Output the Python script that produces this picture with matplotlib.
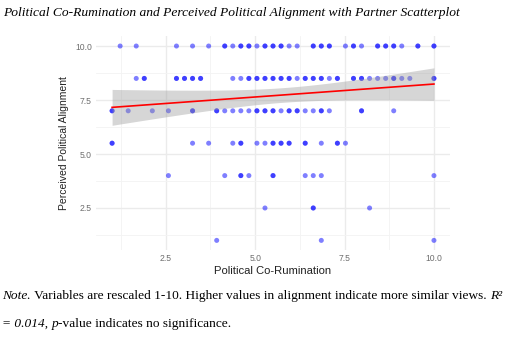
import numpy as np
import matplotlib
matplotlib.use("Agg")
import matplotlib.pyplot as plt

# Political co-rumination (x) values observed in each alignment row (duplicates = overlapping points)
row_10 = [1.225, 1.675, 2.8, 3.25, 3.7, 4.15, 4.15, 4.375, 4.6, 4.6, 4.825, 4.825, 5.05,
          5.275, 5.275, 5.5, 5.5, 5.725, 5.725, 5.95, 6.175, 6.625, 6.625, 6.85, 6.85,
          7.075, 7.075, 7.525, 7.75, 7.75, 7.975, 8.425, 8.425, 8.65, 8.65, 8.875, 8.875,
          9.1, 9.55, 9.55, 10.0, 10.0]
row_85 = [1.675, 1.9, 1.9, 2.8, 2.8, 3.025, 3.025, 3.25, 3.25, 3.475, 3.475, 4.375, 4.6,
          4.825, 4.825, 5.05, 5.05, 5.275, 5.275, 5.5, 5.5, 5.725, 5.725, 5.95, 5.95, 6.175,
          6.4, 6.4, 6.625, 6.625, 6.85, 6.85, 7.075, 7.3, 7.3, 7.75, 7.75, 7.975, 7.975,
          8.2, 8.425, 8.65, 8.875, 8.875, 9.1, 9.325, 10.0, 10.0]
row_7 = [1.0, 1.0, 1.45, 2.125, 2.575, 3.25, 3.25, 3.925, 3.925, 4.15, 4.375, 4.6, 4.825,
         5.05, 5.05, 5.275, 5.275, 5.5, 5.5, 5.725, 5.95, 5.95, 6.175, 6.175, 6.4, 6.625,
         6.85, 6.85, 7.075, 7.975, 7.975, 8.875]
row_55 = [1.0, 1.0, 3.25, 3.7, 4.375, 4.6, 4.6, 5.05, 5.275, 5.5, 5.5, 5.725, 5.725,
          5.95, 5.95, 6.4, 6.4, 6.85, 7.3, 7.3, 7.525]
row_4 = [2.575, 4.15, 4.6, 4.6, 4.825, 5.5, 5.5, 6.4, 6.625, 6.85, 10.0]
row_25 = [5.275, 6.625, 6.625, 8.2]
row_1 = [3.925, 6.85, 10.0]

alignment_levels = [10.0, 8.5, 7.0, 5.5, 4.0, 2.5, 1.0]
rows = [row_10, row_85, row_7, row_55, row_4, row_25, row_1]

# linear fit (R^2 = 0.014)
fit_intercept = 7.04
fit_slope = 0.12

x_ticks = [2.5, 5.0, 7.5, 10.0]
y_ticks = [2.5, 5.0, 7.5, 10.0]

title = "Political Co-Rumination and Perceived Political Alignment with Partner Scatterplot"
x_label = "Political Co-Rumination"
y_label = "Perceived Political Alignment"

x = np.concatenate([np.array(r, float) for r in rows])
y = np.concatenate([np.full(len(r), lv) for r, lv in zip(rows, alignment_levels)])

fig = plt.figure(figsize=(5.12, 3.4), dpi=100)
ax = fig.add_axes([0.1875, 0.2644, 0.879 - 0.1875, 0.8932 - 0.2644])

ax.set_xlim(0.55, 10.45)
ax.set_ylim(0.55, 10.45)
for s in ax.spines.values():
    s.set_visible(False)
ax.set_xticks(x_ticks)
ax.set_yticks(y_ticks)
ax.set_xticks([1.25, 3.75, 6.25, 8.75], minor=True)
ax.set_yticks([1.25, 3.75, 6.25, 8.75], minor=True)
ax.set_xticklabels([f"{t:.1f}" for t in x_ticks])
ax.set_yticklabels([f"{t:.1f}" for t in y_ticks])
for lab in ax.get_xticklabels() + ax.get_yticklabels():
    lab.set_family("Liberation Sans")
ax.tick_params(which="both", length=0, labelsize=6.2, labelcolor="#6E6E6E", pad=3)
ax.grid(which="major", color="#EBEBEB", lw=1.0)
ax.grid(which="minor", color="#F3F3F3", lw=0.6)
ax.set_axisbelow(True)

ax.scatter(x, y, s=13, color="blue", alpha=0.5, edgecolors="none", zorder=2)

# fitted line with 95% CI
n = len(x)
xs = np.linspace(x.min(), x.max(), 100)
yhat = fit_intercept + fit_slope * xs
resid = y - (fit_intercept + fit_slope * x)
s_err = np.sqrt(np.sum(resid ** 2) / (n - 2))
se = s_err * np.sqrt(1 / n + (xs - x.mean()) ** 2 / np.sum((x - x.mean()) ** 2))
tval = 1.97
ax.fill_between(xs, yhat - tval * se, yhat + tval * se, color="#999999", alpha=0.4,
                lw=0, zorder=3)
ax.plot(xs, yhat, color="red", lw=1.2, zorder=4)

ax.set_xlabel(x_label, fontsize=8.1, family="Liberation Sans", labelpad=2, color="#222222")
ax.set_ylabel(y_label, fontsize=7.5, family="Liberation Sans", labelpad=4, color="#222222")

fig.text(0.006, 0.962, title, family="Liberation Serif", style="italic", fontsize=9.7,
         va="center", ha="left")

# Note with mixed styles
fig.canvas.draw()
renderer = fig.canvas.get_renderer()

def write_line(parts, xpos, ypos):
    for txt, sty in parts:
        t = fig.text(xpos, ypos, txt, family="Liberation Serif", style=sty, fontsize=9.6,
                     va="center", ha="left")
        bb = t.get_window_extent(renderer=renderer)
        xpos += bb.width / fig.bbox.width

write_line([("Note.", "italic"),
            (" Variables are rescaled 1-10. Higher values in alignment indicate more similar views. ", "normal"),
            ("R²", "italic")], 0.004, 0.128)
write_line([("= 0.014, ", "italic"), ("p", "italic"),
            ("-value indicates no significance.", "normal")], 0.004, 0.048)

fig.savefig("out.png", dpi=100)
